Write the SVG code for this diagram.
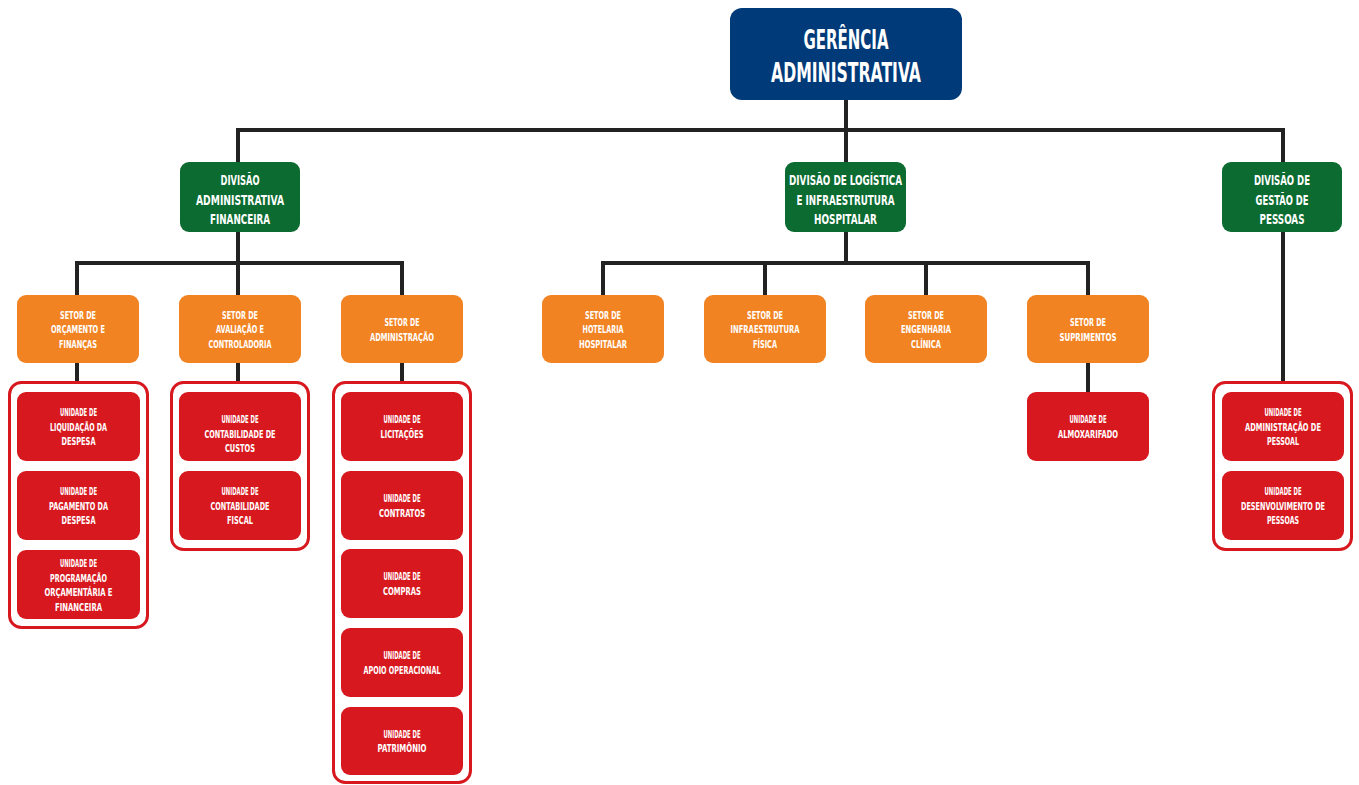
<svg xmlns="http://www.w3.org/2000/svg" width="1359" height="785" viewBox="0 0 1359 785">
<style>
text{font-family:"DejaVu Sans Condensed","DejaVu Sans","Liberation Sans",sans-serif;font-weight:bold;fill:#fff;text-anchor:middle}
.top{fill:#003a78}
.div{fill:#0b6b30}
.set{fill:#f28322}
.uni{fill:#d7191f}
.grp{fill:#fff;stroke:#d7191f;stroke-width:3}
.t1{font-size:27px}
.t2{font-size:14px}
.t3{font-size:10.5px}
.con{stroke:#222;stroke-width:4;fill:none}
</style>
<rect width="1359" height="785" fill="#fff"/>
<g id="connectors" class="con">
<path d="M846 100V130M238 162V130H1283V162M846 130V162"/>
<path d="M238 232V263M77 295V263H402V295M238 263V295"/>
<path d="M846 232V263M603 295V263H1088V295M765 263V295M926 263V295"/>
<path d="M1283 232V383"/>
<path d="M77 363V383M238 363V383M402 363V383M1088 363V392"/>
</g>
<g id="gerencia"><rect class="top" x="730" y="8" width="232" height="92" rx="12"/><text class="t1" x="846" y="49" textLength="85" lengthAdjust="spacingAndGlyphs">GERÊNCIA</text><text class="t1" x="846" y="82" textLength="150" lengthAdjust="spacingAndGlyphs">ADMINISTRATIVA</text></g>

<g id="div-adm-fin"><rect class="div" x="180" y="162" width="120" height="70" rx="9"/><text class="t2" x="240" y="185" textLength="39" lengthAdjust="spacingAndGlyphs">DIVISÃO</text><text class="t2" x="240" y="204.5" textLength="88" lengthAdjust="spacingAndGlyphs">ADMINISTRATIVA</text><text class="t2" x="240" y="224" textLength="60" lengthAdjust="spacingAndGlyphs">FINANCEIRA</text></g>
<g id="div-log"><rect class="div" x="785" y="162" width="121" height="70" rx="9"/><text class="t2" x="845.5" y="185" textLength="113" lengthAdjust="spacingAndGlyphs">DIVISÃO DE LOGÍSTICA</text><text class="t2" x="845.5" y="204.5" textLength="98" lengthAdjust="spacingAndGlyphs">E INFRAESTRUTURA</text><text class="t2" x="845.5" y="224" textLength="63" lengthAdjust="spacingAndGlyphs">HOSPITALAR</text></g>
<g id="div-gp"><rect class="div" x="1222" y="162" width="120" height="70" rx="9"/><text class="t2" x="1282" y="185" textLength="56" lengthAdjust="spacingAndGlyphs">DIVISÃO DE</text><text class="t2" x="1282" y="204.5" textLength="53" lengthAdjust="spacingAndGlyphs">GESTÃO DE</text><text class="t2" x="1282" y="224" textLength="45" lengthAdjust="spacingAndGlyphs">PESSOAS</text></g>

<g id="set-orc"><rect class="set" x="17" y="295" width="122" height="68" rx="9"/><text class="t3" x="78" y="318.5" textLength="36" lengthAdjust="spacingAndGlyphs">SETOR DE</text><text class="t3" x="78" y="333" textLength="54" lengthAdjust="spacingAndGlyphs">ORÇAMENTO E</text><text class="t3" x="78" y="347.5" textLength="38" lengthAdjust="spacingAndGlyphs">FINANÇAS</text></g>
<g id="set-aval"><rect class="set" x="179" y="295" width="122" height="68" rx="9"/><text class="t3" x="240" y="318.5" textLength="36" lengthAdjust="spacingAndGlyphs">SETOR DE</text><text class="t3" x="240" y="333" textLength="48" lengthAdjust="spacingAndGlyphs">AVALIAÇÃO E</text><text class="t3" x="240" y="347.5" textLength="63" lengthAdjust="spacingAndGlyphs">CONTROLADORIA</text></g>
<g id="set-adm"><rect class="set" x="341" y="295" width="122" height="68" rx="9"/><text class="t3" x="402" y="326" textLength="35" lengthAdjust="spacingAndGlyphs">SETOR DE</text><text class="t3" x="402" y="340.5" textLength="64" lengthAdjust="spacingAndGlyphs">ADMINISTRAÇÃO</text></g>
<g id="set-hot"><rect class="set" x="542" y="295" width="122" height="68" rx="9"/><text class="t3" x="603" y="318.5" textLength="36" lengthAdjust="spacingAndGlyphs">SETOR DE</text><text class="t3" x="603" y="333" textLength="41" lengthAdjust="spacingAndGlyphs">HOTELARIA</text><text class="t3" x="603" y="347.5" textLength="48" lengthAdjust="spacingAndGlyphs">HOSPITALAR</text></g>
<g id="set-inf"><rect class="set" x="704" y="295" width="122" height="68" rx="9"/><text class="t3" x="765" y="318.5" textLength="36" lengthAdjust="spacingAndGlyphs">SETOR DE</text><text class="t3" x="765" y="333" textLength="69" lengthAdjust="spacingAndGlyphs">INFRAESTRUTURA</text><text class="t3" x="765" y="347.5" textLength="24" lengthAdjust="spacingAndGlyphs">FÍSICA</text></g>
<g id="set-eng"><rect class="set" x="865" y="295" width="122" height="68" rx="9"/><text class="t3" x="926" y="318.5" textLength="36" lengthAdjust="spacingAndGlyphs">SETOR DE</text><text class="t3" x="926" y="333" textLength="50" lengthAdjust="spacingAndGlyphs">ENGENHARIA</text><text class="t3" x="926" y="347.5" textLength="30" lengthAdjust="spacingAndGlyphs">CLÍNICA</text></g>
<g id="set-sup"><rect class="set" x="1027" y="295" width="122" height="68" rx="9"/><text class="t3" x="1088" y="326" textLength="36" lengthAdjust="spacingAndGlyphs">SETOR DE</text><text class="t3" x="1088" y="340.5" textLength="57" lengthAdjust="spacingAndGlyphs">SUPRIMENTOS</text></g>

<g id="grp-orc"><rect class="grp" x="9.5" y="382.5" width="138" height="245" rx="12"/>
<g id="uni-liq"><rect class="uni" x="17" y="392" width="123" height="69" rx="9"/><text class="t3" x="78.5" y="416" textLength="37" lengthAdjust="spacingAndGlyphs">UNIDADE DE</text><text class="t3" x="78.5" y="430.5" textLength="57" lengthAdjust="spacingAndGlyphs">LIQUIDAÇÃO DA</text><text class="t3" x="78.5" y="445" textLength="34" lengthAdjust="spacingAndGlyphs">DESPESA</text></g>
<g id="uni-pag"><rect class="uni" x="17" y="471" width="123" height="69" rx="9"/><text class="t3" x="78.5" y="495" textLength="37" lengthAdjust="spacingAndGlyphs">UNIDADE DE</text><text class="t3" x="78.5" y="509.5" textLength="59" lengthAdjust="spacingAndGlyphs">PAGAMENTO DA</text><text class="t3" x="78.5" y="524" textLength="34" lengthAdjust="spacingAndGlyphs">DESPESA</text></g>
<g id="uni-prog"><rect class="uni" x="17" y="550" width="123" height="69" rx="9"/><text class="t3" x="78.5" y="567" textLength="37" lengthAdjust="spacingAndGlyphs">UNIDADE DE</text><text class="t3" x="78.5" y="581.5" textLength="57" lengthAdjust="spacingAndGlyphs">PROGRAMAÇÃO</text><text class="t3" x="78.5" y="596" textLength="68" lengthAdjust="spacingAndGlyphs">ORÇAMENTÁRIA E</text><text class="t3" x="78.5" y="610.5" textLength="47" lengthAdjust="spacingAndGlyphs">FINANCEIRA</text></g>
</g>

<g id="grp-aval"><rect class="grp" x="171.5" y="382.5" width="137" height="167" rx="12"/>
<g id="uni-cust"><rect class="uni" x="179" y="392" width="122" height="69" rx="9"/><text class="t3" x="240" y="423" textLength="37" lengthAdjust="spacingAndGlyphs">UNIDADE DE</text><text class="t3" x="240" y="437.5" textLength="71" lengthAdjust="spacingAndGlyphs">CONTABILIDADE DE</text><text class="t3" x="240" y="452" textLength="30" lengthAdjust="spacingAndGlyphs">CUSTOS</text></g>
<g id="uni-fisc"><rect class="uni" x="179" y="471" width="122" height="69" rx="9"/><text class="t3" x="240" y="495" textLength="37" lengthAdjust="spacingAndGlyphs">UNIDADE DE</text><text class="t3" x="240" y="509.5" textLength="59" lengthAdjust="spacingAndGlyphs">CONTABILIDADE</text><text class="t3" x="240" y="524" textLength="26" lengthAdjust="spacingAndGlyphs">FISCAL</text></g>
</g>

<g id="grp-adm"><rect class="grp" x="333.5" y="382.5" width="137" height="400" rx="12"/>
<g id="uni-lic"><rect class="uni" x="341" y="392" width="122" height="69" rx="9"/><text class="t3" x="402" y="423" textLength="37" lengthAdjust="spacingAndGlyphs">UNIDADE DE</text><text class="t3" x="402" y="437.5" textLength="43" lengthAdjust="spacingAndGlyphs">LICITAÇÕES</text></g>
<g id="uni-cont"><rect class="uni" x="341" y="471" width="122" height="69" rx="9"/><text class="t3" x="402" y="502" textLength="37" lengthAdjust="spacingAndGlyphs">UNIDADE DE</text><text class="t3" x="402" y="516.5" textLength="46" lengthAdjust="spacingAndGlyphs">CONTRATOS</text></g>
<g id="uni-comp"><rect class="uni" x="341" y="549" width="122" height="69" rx="9"/><text class="t3" x="402" y="580" textLength="37" lengthAdjust="spacingAndGlyphs">UNIDADE DE</text><text class="t3" x="402" y="594.5" textLength="38" lengthAdjust="spacingAndGlyphs">COMPRAS</text></g>
<g id="uni-apoio"><rect class="uni" x="341" y="628" width="122" height="69" rx="9"/><text class="t3" x="402" y="659" textLength="37" lengthAdjust="spacingAndGlyphs">UNIDADE DE</text><text class="t3" x="402" y="673.5" textLength="77" lengthAdjust="spacingAndGlyphs">APOIO OPERACIONAL</text></g>
<g id="uni-pat"><rect class="uni" x="341" y="707" width="122" height="68" rx="9"/><text class="t3" x="402" y="737.5" textLength="37" lengthAdjust="spacingAndGlyphs">UNIDADE DE</text><text class="t3" x="402" y="752" textLength="49" lengthAdjust="spacingAndGlyphs">PATRIMÔNIO</text></g>
</g>

<g id="uni-alm"><rect class="uni" x="1027" y="392" width="122" height="69" rx="9"/><text class="t3" x="1088" y="423" textLength="37" lengthAdjust="spacingAndGlyphs">UNIDADE DE</text><text class="t3" x="1088" y="437.5" textLength="60" lengthAdjust="spacingAndGlyphs">ALMOXARIFADO</text></g>

<g id="grp-gp"><rect class="grp" x="1213.5" y="382.5" width="138" height="167" rx="12"/>
<g id="uni-admp"><rect class="uni" x="1222" y="392" width="122" height="69" rx="9"/><text class="t3" x="1283" y="416" textLength="37" lengthAdjust="spacingAndGlyphs">UNIDADE DE</text><text class="t3" x="1283" y="430.5" textLength="76" lengthAdjust="spacingAndGlyphs">ADMINISTRAÇÃO DE</text><text class="t3" x="1283" y="445" textLength="32" lengthAdjust="spacingAndGlyphs">PESSOAL</text></g>
<g id="uni-desp"><rect class="uni" x="1222" y="471" width="122" height="69" rx="9"/><text class="t3" x="1283" y="495" textLength="37" lengthAdjust="spacingAndGlyphs">UNIDADE DE</text><text class="t3" x="1283" y="509.5" textLength="84" lengthAdjust="spacingAndGlyphs">DESENVOLVIMENTO DE</text><text class="t3" x="1283" y="524" textLength="32" lengthAdjust="spacingAndGlyphs">PESSOAS</text></g>
</g>
</svg>
